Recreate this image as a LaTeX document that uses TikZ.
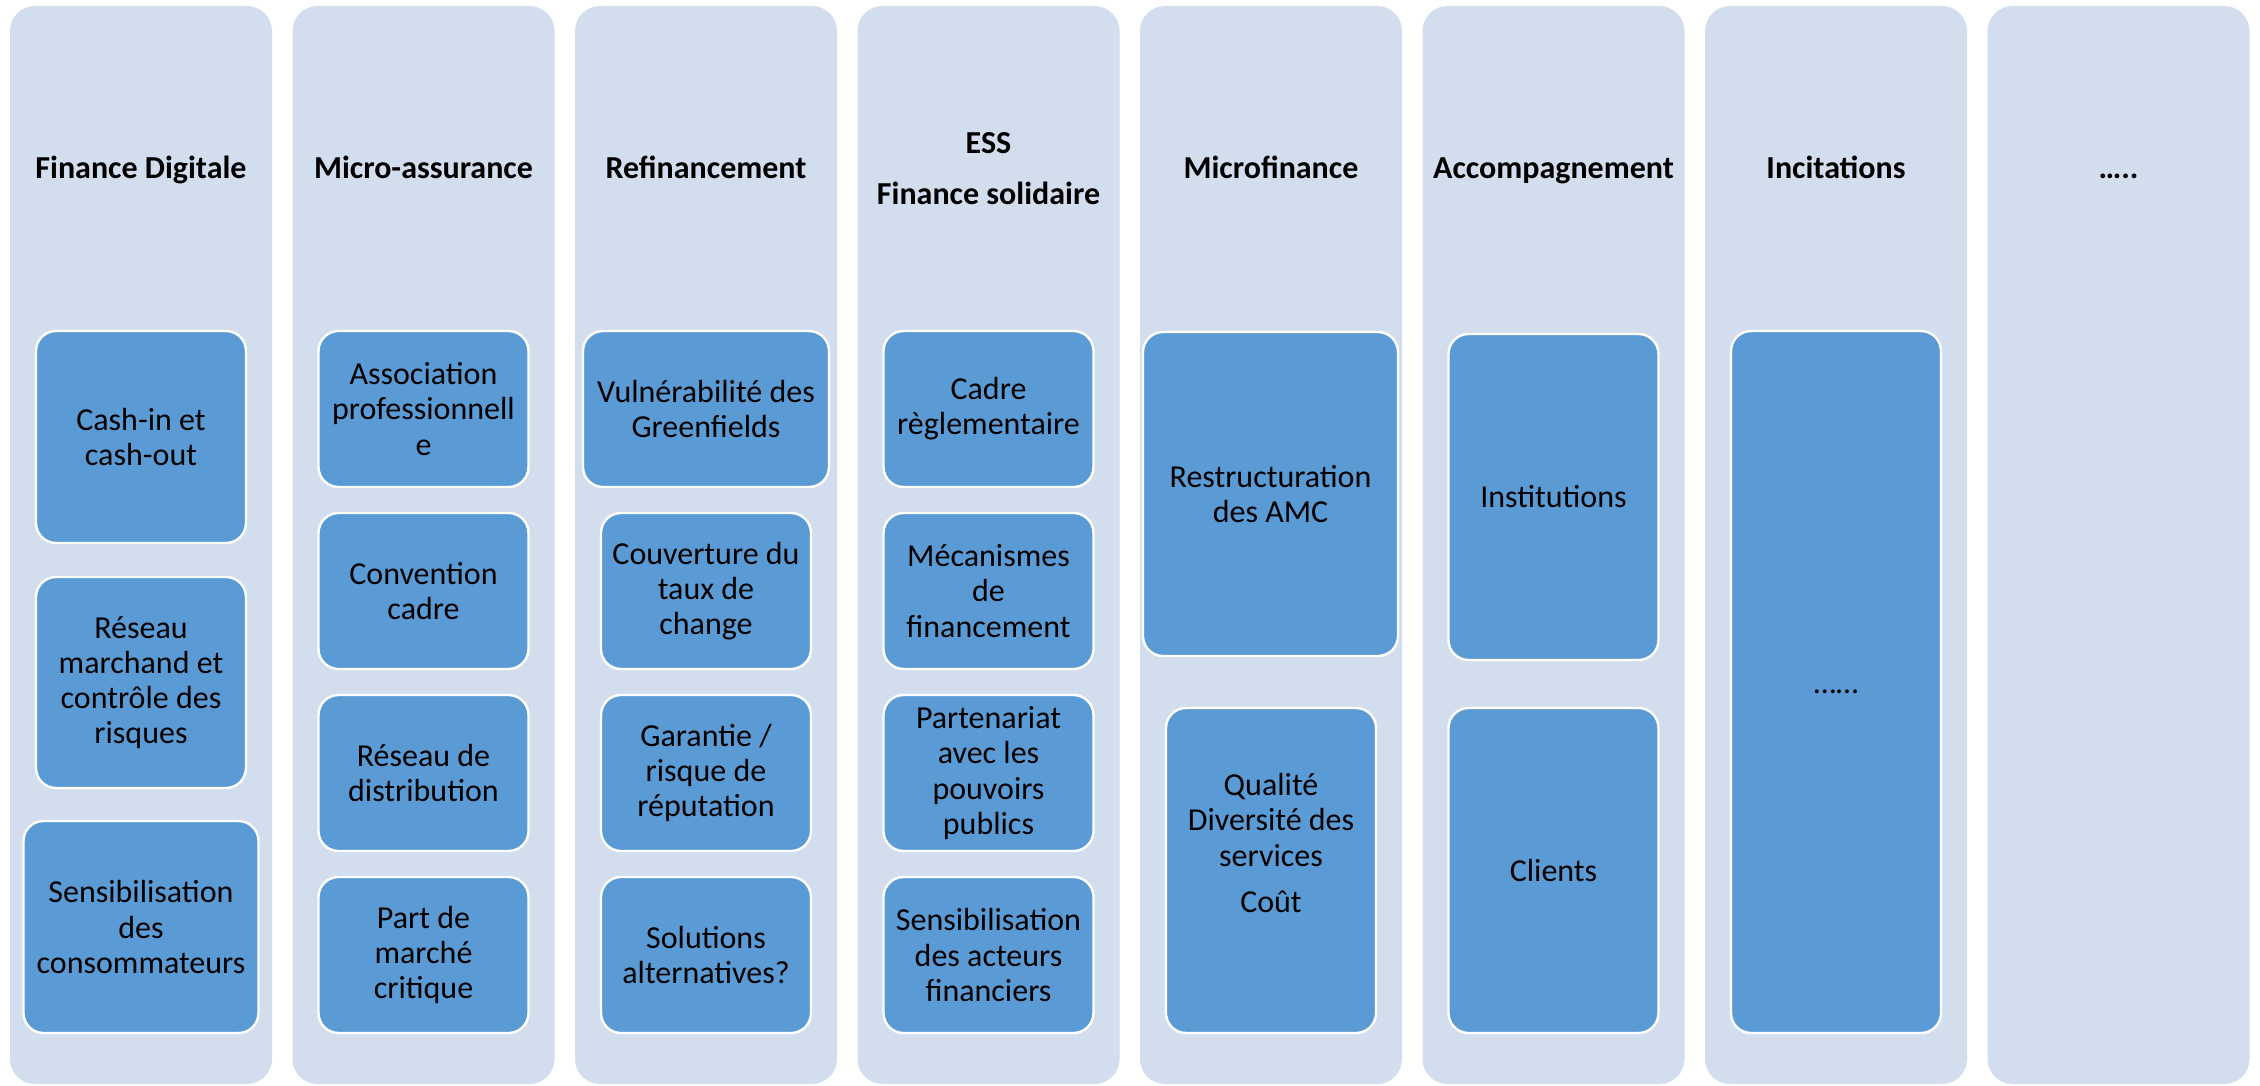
\documentclass[tikz,border=0pt]{standalone}
\usepackage{fontspec}
\setmainfont{Carlito}
\definecolor{colbg}{HTML}{D2DDEE}
\definecolor{boxbg}{HTML}{5B9BD5}
\begin{document}
\begin{tikzpicture}[x=0.5pt,y=-0.5pt,
  colbox/.style={fill=colbg, draw=none, rounded corners=12.5pt, minimum width=131pt, minimum height=539pt, inner sep=0pt},
  ttl/.style={font=\fontsize{16}{17.6}\selectfont\bfseries, anchor=base, inner sep=0pt},
  inbox/.style={fill=boxbg, draw=white, line width=1.2pt, rounded corners=10pt, minimum width=105pt, minimum height=78pt, align=center, font=\fontsize{16}{17.6}\selectfont, inner sep=0pt},
  boxtxt/.style={align=center, font=\fontsize{16}{17.6}\selectfont, inner sep=0pt}
]
\useasboundingbox[fill=white] (0,0) rectangle (2260,1086);

% columns
\node[colbox] (c1) at (141,545) {};
\node[colbox] (c2) at (423.5,545) {};
\node[colbox] (c3) at (706,545) {};
\node[colbox] (c4) at (988.5,545) {};
\node[colbox] (c5) at (1271,545) {};
\node[colbox] (c6) at (1553.5,545) {};
\node[colbox] (c7) at (1836,545) {};
\node[colbox] (c8) at (2118.5,545) {};

% titles
\node[ttl] (t1) at (141,178) {Finance Digitale};
\node[ttl] (t2) at (423.5,178) {Micro-assurance};
\node[ttl] (t3) at (706,178) {Refinancement};
\node[ttl] (t4a) at (988.5,153.5) {ESS};
\node[ttl] (t4b) at (988.5,204.5) {Finance solidaire};
\node[ttl] (t5) at (1271,178) {Microfinance};
\node[ttl] (t6) at (1553.5,178) {Accompagnement};
\node[ttl] (t7) at (1836,178) {Incitations};
\node[ttl] (t8) at (2118.5,178) {…..};

% column 1
\node[inbox, minimum height=106pt] (b11) at (141,437) {Cash-in et\\cash-out};
\node[inbox, minimum height=105.5pt] (b12) at (141,682.5) {Réseau\\marchand et\\contrôle des\\risques};
\node[inbox, minimum width=117.5pt, minimum height=106pt] (b13) at (141,927) {Sensibilisation\\des\\consommateurs};

% column 2
\node[inbox] (b21) at (423.5,409) {Association\\professionnell\\e};
\node[inbox] (b22) at (423.5,591) {Convention\\cadre};
\node[inbox] (b23) at (423.5,773) {Réseau de\\distribution};
\node[inbox] (b24) at (423.5,955) {Part de\\marché\\critique};

% column 3
\node[inbox, minimum width=123pt] (b31) at (706,409) {Vulnérabilité des\\Greenfields};
\node[inbox] (b32) at (706,591) {Couverture du\\taux de\\change};
\node[inbox] (b33) at (706,773) {Garantie /\\risque de\\réputation};
\node[inbox] (b34) at (706,955) {Solutions\\alternatives?};

% column 4
\node[inbox] (b41) at (988.5,409) {Cadre\\règlementaire};
\node[inbox] (b42) at (988.5,591) {Mécanismes\\de\\financement};
\node[inbox] (b43) at (988.5,773) {Partenariat\\avec les\\pouvoirs\\publics};
\node[inbox] (b44) at (988.5,955) {Sensibilisation\\des acteurs\\financiers};

% column 5
\node[inbox, minimum width=127.5pt, minimum height=162pt] (b51) at (1270.5,494) {Restructuration\\des AMC};
\node[inbox, minimum height=162.5pt] (b52) at (1271,870.5) {};
\node[boxtxt] (b52t) at (1271,843) {Qualité\\Diversité des\\services\\[5.5pt]Coût};

% column 6
\node[inbox, minimum height=163pt] (b61) at (1553.5,497) {Institutions};
\node[inbox, minimum height=162.5pt] (b62) at (1553.5,870.5) {Clients};

% column 7
\node[inbox, minimum height=351pt] (b71) at (1836,682) {};
\node[boxtxt] (b71t) at (1836,692) {……};
\end{tikzpicture}
\end{document}
